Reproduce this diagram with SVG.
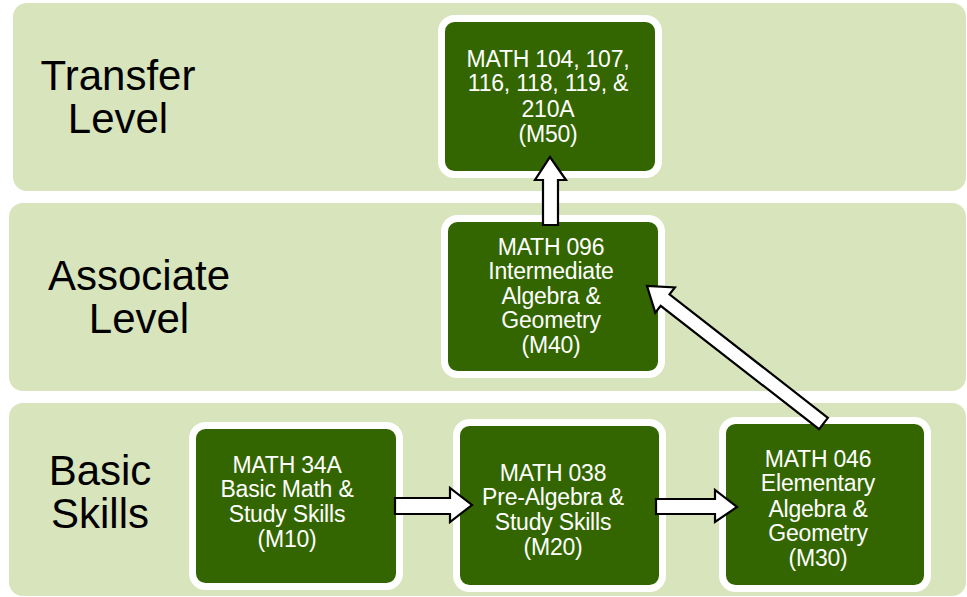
<svg xmlns="http://www.w3.org/2000/svg" width="967" height="597" viewBox="0 0 967 597">
<style>
.band{fill:#d8e4bc}
.lvl{font-family:"Liberation Sans",Arial,sans-serif;font-size:42px;fill:#000;text-anchor:middle}
.box{fill:#336600;stroke:#fff;stroke-width:7}
.t{font-family:"Liberation Sans",Arial,sans-serif;font-size:23px;fill:#fff;text-anchor:middle;letter-spacing:-0.2px}
.arr{fill:#fff;stroke:#000;stroke-width:2.2;stroke-linejoin:miter}
</style>
<rect width="967" height="597" fill="#fff"/>
<g id="band-transfer">
<rect class="band" x="13" y="3" width="953" height="188" rx="14"/>
<text class="lvl" x="118" y="90">Transfer</text>
<text class="lvl" x="118" y="133">Level</text>
</g>
<g id="band-associate">
<rect class="band" x="9" y="203" width="957" height="188" rx="14"/>
<text class="lvl" x="139" y="290">Associate</text>
<text class="lvl" x="139" y="333">Level</text>
</g>
<g id="band-basic">
<rect class="band" x="9" y="403" width="957" height="193" rx="14"/>
<text class="lvl" x="100" y="485">Basic</text>
<text class="lvl" x="100" y="528">Skills</text>
</g>
<g id="node-m50">
<rect class="box" x="441.5" y="18.5" width="217" height="156" rx="13"/>
<text class="t" x="548" y="67">MATH 104, 107,</text>
<text class="t" x="548" y="91">116, 118, 119, &amp;</text>
<text class="t" x="548" y="117">210A</text>
<text class="t" x="548" y="142">(M50)</text>
</g>
<g id="node-m40">
<rect class="box" x="444.5" y="218.5" width="217" height="156" rx="13"/>
<text class="t" x="551" y="255">MATH 096</text>
<text class="t" x="551" y="279">Intermediate</text>
<text class="t" x="551" y="304">Algebra &amp;</text>
<text class="t" x="551" y="328">Geometry</text>
<text class="t" x="551" y="353">(M40)</text>
</g>
<g id="node-m10">
<rect class="box" x="192.5" y="425.5" width="207" height="161" rx="13"/>
<text class="t" x="287" y="473">MATH 34A</text>
<text class="t" x="287" y="497">Basic Math &amp;</text>
<text class="t" x="287" y="522">Study Skills</text>
<text class="t" x="287" y="547">(M10)</text>
</g>
<g id="node-m20">
<rect class="box" x="456.5" y="422.5" width="206" height="166" rx="13"/>
<text class="t" x="553" y="481">MATH 038</text>
<text class="t" x="553" y="505">Pre-Algebra &amp;</text>
<text class="t" x="553" y="530">Study Skills</text>
<text class="t" x="553" y="555">(M20)</text>
</g>
<g id="node-m30">
<rect class="box" x="722.5" y="420.5" width="205" height="168" rx="13"/>
<text class="t" x="818" y="467">MATH 046</text>
<text class="t" x="818" y="491">Elementary</text>
<text class="t" x="818" y="517">Algebra &amp;</text>
<text class="t" x="818" y="541">Geometry</text>
<text class="t" x="818" y="566">(M30)</text>
</g>
<g id="connectors">
<polygon class="arr" points="543,225 543,180 535,180 550,157 566,180 558,180 558,225"/>
<polygon class="arr" points="395,498 450,498 450,488 472,505 450,522 450,514 395,514"/>
<polygon class="arr" points="656,499 715,499 715,490 737,507 715,522 715,514 656,514"/>
<polygon class="arr" points="827.9,417.8 669.5,294.4 674.9,287.5 647,286 655.3,312.7 660.7,305.8 819.1,429.2"/>
</g>
</svg>
